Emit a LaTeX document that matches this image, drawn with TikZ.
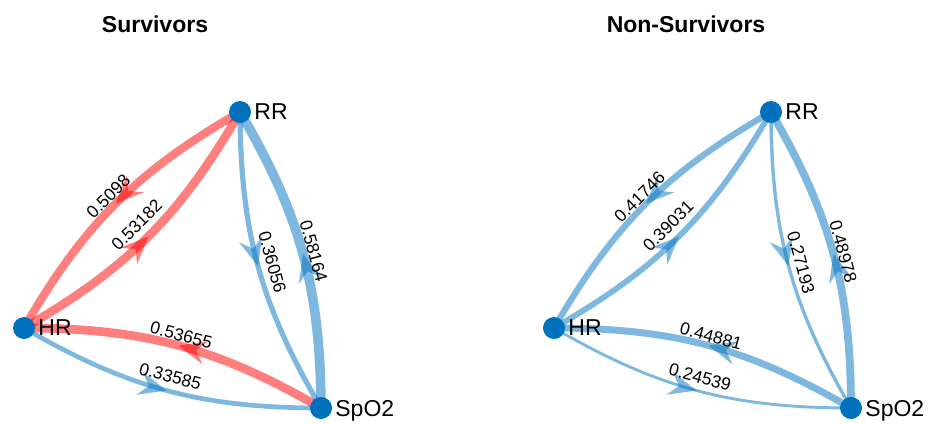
\documentclass[tikz,border=0pt]{standalone}
\usepackage{fontspec}
\setmainfont{Liberation Sans}
\usetikzlibrary{arrows.meta,decorations.markings,backgrounds,positioning}

\definecolor{mblue}{rgb}{0,0.447,0.741}
\definecolor{mred}{rgb}{1,0,0}

\begin{document}
\begin{tikzpicture}[x=1pt,y=-1pt,
  vtx/.style={fill=mblue,shape=circle,minimum size=22pt,inner sep=0pt},
  vlbl/.style={font=\fontsize{23}{27}\selectfont,text depth=0pt,inner sep=0pt},
  ttl/.style={font=\fontsize{23}{27}\selectfont\bfseries,text depth=0pt,inner sep=0pt},
  wedge/.style={opacity=0.5,postaction={decorate},
    decoration={markings,mark=at position 0.5 with
      {\arrow{Stealth[length=28pt,width=24pt,inset=10pt,line width=0pt]}}}},
  bedge/.style={wedge,draw=mblue},
  redge/.style={wedge,draw=mred},
  elbl/.style={sloped,above,inner sep=0pt,font=\fontsize{17.5}{21}\selectfont,
    text=black,opacity=1,text opacity=1}]
  \useasboundingbox (0,0) rectangle (931,423);
  % Titles
  \path (155,24) node[ttl] (tSurv) {Survivors};
  \path (686,24) node[ttl] (tNon) {Non-Survivors};
  % Survivors: the three vertices
  \path (240,112) node[vtx] (sRR) {};
  \path (24,328) node[vtx] (sHR) {};
  \path (321,408) node[vtx] (sSp) {};
  \node[vlbl, right=3pt of sRR] (sRRl) {RR};
  \node[vlbl, right=3pt of sHR] (sHRl) {HR};
  \node[vlbl, right=3pt of sSp] (sSpl) {SpO2};
  % Non-Survivors: the three vertices
  \path (771,112) node[vtx] (nRR) {};
  \path (554,328) node[vtx] (nHR) {};
  \path (851,408) node[vtx] (nSp) {};
  \node[vlbl, right=3pt of nRR] (nRRl) {RR};
  \node[vlbl, right=3pt of nHR] (nHRl) {HR};
  \node[vlbl, right=3pt of nSp] (nSpl) {SpO2};
  % Weighted edges, below the vertices
  \begin{scope}[on background layer]
    \draw[redge, line width=8.2pt] (sRR.center) to[bend right=15] node[elbl] {0.5098} (sHR.center);
    \draw[redge, line width=8.6pt] (sHR.center) to[bend right=15] node[elbl, above=6pt] {0.53182} (sRR.center);
    \draw[bedge, line width=5.2pt] (sRR.center) to[bend right=15] node[elbl, above=6pt] {0.36056} (sSp.center);
    \draw[bedge, line width=9.6pt] (sSp.center) to[bend right=15] node[elbl] {0.58164} (sRR.center);
    \draw[redge, line width=8.7pt] (sSp.center) to[bend right=15] node[elbl] {0.53655} (sHR.center);
    \draw[bedge, line width=4.7pt] (sHR.center) to[bend right=15] node[elbl, above=6pt] {0.33585} (sSp.center);
    \draw[bedge, line width=6.3pt] (nRR.center) to[bend right=15] node[elbl] {0.41746} (nHR.center);
    \draw[bedge, line width=5.8pt] (nHR.center) to[bend right=15] node[elbl, above=6pt] {0.39031} (nRR.center);
    \draw[bedge, line width=3.4pt] (nRR.center) to[bend right=15] node[elbl, above=5pt] {0.27193} (nSp.center);
    \draw[bedge, line width=7.8pt] (nSp.center) to[bend right=15] node[elbl] {0.48978} (nRR.center);
    \draw[bedge, line width=7.0pt] (nSp.center) to[bend right=15] node[elbl] {0.44881} (nHR.center);
    \draw[bedge, line width=2.9pt] (nHR.center) to[bend right=15] node[elbl, above=6pt] {0.24539} (nSp.center);
  \end{scope}
\end{tikzpicture}
\end{document}
